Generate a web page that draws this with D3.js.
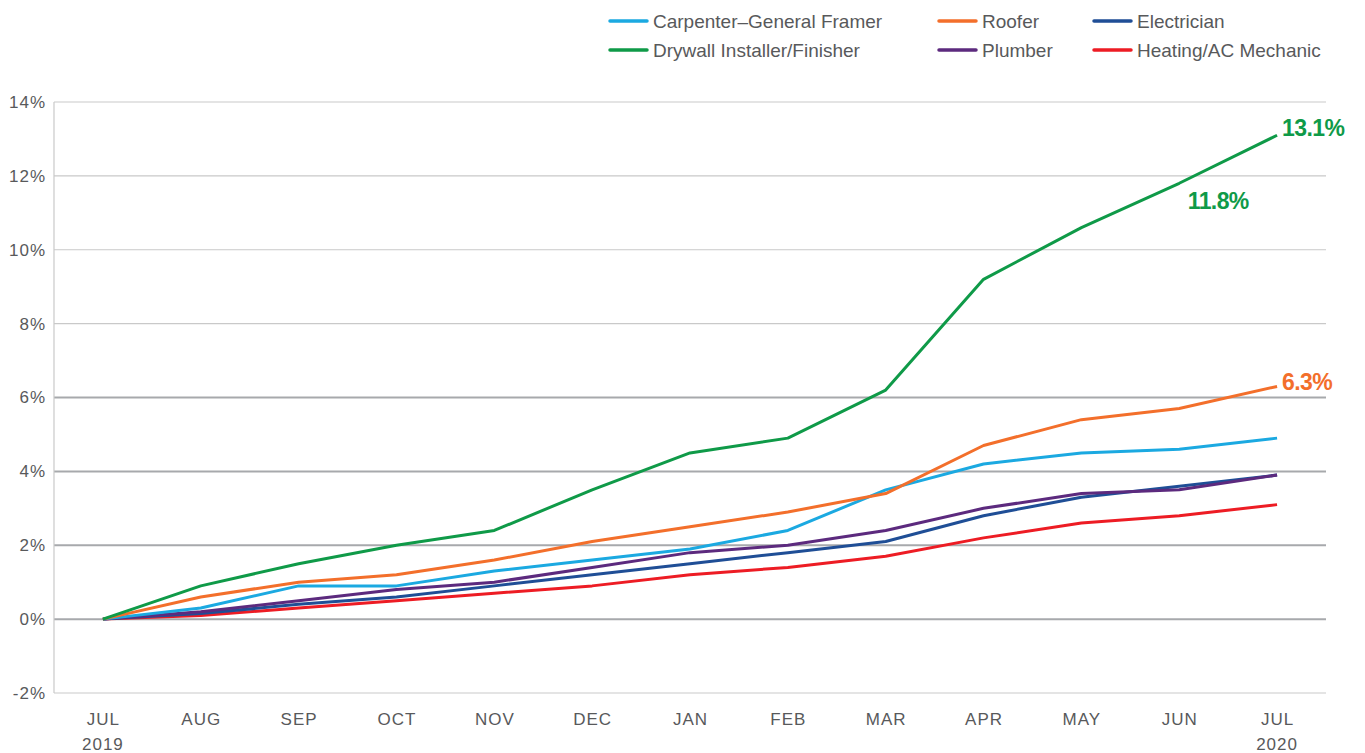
<!DOCTYPE html>
<html>
<head>
<meta charset="utf-8">
<script src="https://cdn.jsdelivr.net/npm/d3@7"></script>
<style>
  body { margin: 0; background: #fff; }
  text { font-family: "Liberation Sans", Arial, sans-serif; }
</style>
</head>
<body>
<div class="chart"></div>
<script>
const months = ['JUL', 'AUG', 'SEP', 'OCT', 'NOV', 'DEC', 'JAN', 'FEB', 'MAR', 'APR', 'MAY', 'JUN', 'JUL '];
const monthLabels = ['JUL', 'AUG', 'SEP', 'OCT', 'NOV', 'DEC', 'JAN', 'FEB', 'MAR', 'APR', 'MAY', 'JUN', 'JUL'];
const yearLabels = ['2019', '', '', '', '', '', '', '', '', '', '', '', '2020'];
const yTicks = [-2, 0, 2, 4, 6, 8, 10, 12, 14];

const carpenter = [0, 0.3, 0.9, 0.9, 1.3, 1.6, 1.9, 2.4, 3.5, 4.2, 4.5, 4.6, 4.9];
const roofer = [0, 0.6, 1.0, 1.2, 1.6, 2.1, 2.5, 2.9, 3.4, 4.7, 5.4, 5.7, 6.3];
const electrician = [0, 0.15, 0.4, 0.6, 0.9, 1.2, 1.5, 1.8, 2.1, 2.8, 3.3, 3.6, 3.9];
const drywall = [0, 0.9, 1.5, 2.0, 2.4, 3.5, 4.5, 4.9, 6.2, 9.2, 10.6, 11.8, 13.1];
const plumber = [0, 0.2, 0.5, 0.8, 1.0, 1.4, 1.8, 2.0, 2.4, 3.0, 3.4, 3.5, 3.9];
const heating = [0, 0.1, 0.3, 0.5, 0.7, 0.9, 1.2, 1.4, 1.7, 2.2, 2.6, 2.8, 3.1];

const series = [
  { name: 'Carpenter\u2013General Framer', values: carpenter, color: '#1ba9e1' },
  { name: 'Roofer', values: roofer, color: '#f36f2b' },
  { name: 'Electrician', values: electrician, color: '#1f4e96' },
  { name: 'Drywall Installer/Finisher', values: drywall, color: '#0f9a48' },
  { name: 'Plumber', values: plumber, color: '#5c2a7e' },
  { name: 'Heating/AC Mechanic', values: heating, color: '#ed1c24' }
];
// draw order: bottom first so green/orange sit on top
const drawOrder = ['Heating/AC Mechanic', 'Electrician', 'Plumber', 'Carpenter\u2013General Framer', 'Roofer', 'Drywall Installer/Finisher'];

const callouts = [
  { text: '13.1%', month: 12, value: 13.1, dx: 5, dy: -7, anchor: 'start', color: '#0f9a48' },
  { text: '11.8%', month: 11, value: 11.8, dx: 39, dy: 18, anchor: 'middle', color: '#0f9a48' },
  { text: '6.3%', month: 12, value: 6.3, dx: 5, dy: -4, anchor: 'start', color: '#f36f2b' }
];

const chartWidth = 1365;
const chartHeight = 753;
const margin = { left: 54, right: 39, top: 102, bottom: 60 };
const width = chartWidth - margin.left - margin.right;
const height = chartHeight - margin.top - margin.bottom;

const svg = d3.select('.chart')
  .append('svg')
  .attr('width', chartWidth)
  .attr('height', chartHeight)
  .append('g')
  .attr('transform', `translate(${margin.left}, ${margin.top})`);

const xScale = d3.scalePoint()
  .domain(months)
  .range([0, width])
  .padding(0.5);

const yScale = d3.scaleLinear()
  .domain([-2, 14])
  .range([height, 0]);

// gridlines
svg.append('g')
  .selectAll('line')
  .data(yTicks)
  .enter()
  .append('line')
  .attr('x1', 0)
  .attr('x2', width)
  .attr('y1', d => yScale(d))
  .attr('y2', d => yScale(d))
  .attr('stroke', d => (d >= 0 && d <= 6) ? '#a7a9ac' : '#c9c9c9')
  .attr('stroke-width', d => (d >= 0 && d <= 6) ? 2 : 1.2);

svg.append('line')
  .attr('x1', 0).attr('x2', 0)
  .attr('y1', 0).attr('y2', height)
  .attr('stroke', '#c9c9c9')
  .attr('stroke-width', 1.2);

// y axis labels
const yAxis = d3.axisLeft(yScale)
  .tickValues(yTicks)
  .tickSize(0)
  .tickPadding(8)
  .tickFormat(d => `${d}%`);
const yAxisEl = svg.append('g').call(yAxis);
yAxisEl.select('.domain').remove();
yAxisEl.selectAll('text')
  .attr('font-size', '17px')
  .attr('letter-spacing', '1px')
  .attr('fill', '#58595b')
  .attr('font-family', '"Liberation Sans", Arial, sans-serif');

// x axis labels
const xAxis = d3.axisBottom(xScale)
  .tickSize(0)
  .tickPadding(20)
  .tickFormat((d, i) => monthLabels[i]);
const xAxisEl = svg.append('g')
  .attr('transform', `translate(0, ${height})`)
  .call(xAxis);
xAxisEl.select('.domain').remove();
xAxisEl.selectAll('text')
  .attr('font-size', '17px')
  .attr('letter-spacing', '1px')
  .attr('fill', '#58595b')
  .attr('font-family', '"Liberation Sans", Arial, sans-serif');

svg.append('g')
  .selectAll('text')
  .data(months)
  .enter()
  .append('text')
  .attr('x', d => xScale(d))
  .attr('y', height + 57)
  .attr('text-anchor', 'middle')
  .attr('font-size', '17px')
  .attr('letter-spacing', '1px')
  .attr('fill', '#58595b')
  .text((d, i) => yearLabels[i]);

// lines
const line = d3.line()
  .x((d, i) => xScale(months[i]))
  .y(d => yScale(d));

svg.append('g')
  .selectAll('path')
  .data(drawOrder.map(n => series.find(s => s.name === n)))
  .enter()
  .append('path')
  .attr('d', d => line(d.values))
  .attr('fill', 'none')
  .attr('stroke', d => d.color)
  .attr('stroke-width', 3)
  .attr('stroke-linejoin', 'round');

// callouts
svg.append('g')
  .selectAll('text')
  .data(callouts)
  .enter()
  .append('text')
  .attr('x', d => xScale(months[d.month]) + d.dx)
  .attr('y', d => yScale(d.value) + d.dy)
  .attr('dy', '0.35em')
  .attr('text-anchor', d => d.anchor)
  .attr('font-size', '23px')
  .attr('font-weight', 'bold')
  .attr('letter-spacing', '-0.6px')
  .attr('fill', d => d.color)
  .text(d => d.text);

// legend
const legendCols = [610, 939, 1094];
const legendRows = [21, 50];
const legend = d3.select('svg').append('g');
const legendItems = legend.selectAll('g')
  .data(series)
  .enter()
  .append('g')
  .attr('transform', (d, i) => `translate(${legendCols[i % 3]}, ${legendRows[Math.floor(i / 3)]})`);
legendItems.append('line')
  .attr('x1', 0).attr('x2', 37)
  .attr('y1', 0).attr('y2', 0)
  .attr('stroke', d => d.color)
  .attr('stroke-width', 3.5)
  .attr('stroke-linecap', 'round');
legendItems.append('text')
  .attr('x', 43)
  .attr('y', 0)
  .attr('dy', '0.35em')
  .attr('font-size', '19px')
  .attr('fill', '#58595b')
  .text(d => d.name);
</script>
</body>
</html>
